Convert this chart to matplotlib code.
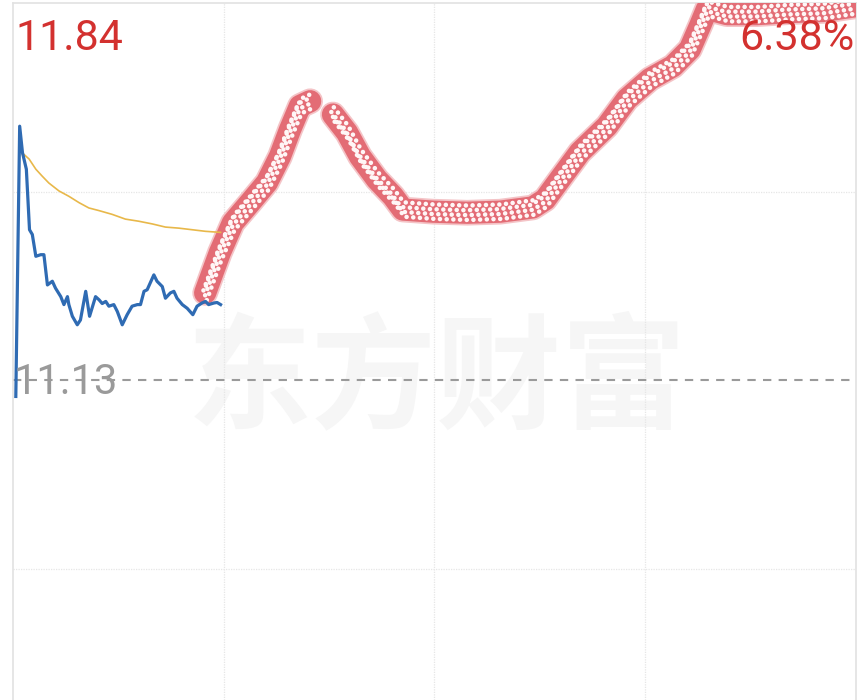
import matplotlib
matplotlib.use("Agg")
import matplotlib.pyplot as plt
import matplotlib.patheffects as pe

# ---------------- data ----------------
prev_close = 11.13
top_price = 11.84
pct_label = "6.38%"

# actual intraday price (minutes since open, price)
price_t = [0.8, 1.9, 2.7, 3.8, 4.7, 5.5, 6.5, 7.9, 8.8, 9.8, 11.2, 12.1, 13.6, 14.5,
           15.5, 15.9, 16.9, 18.3, 19.2, 20.7, 21.8, 23.5, 24.5, 25.4, 26.4, 27.3,
           28.7, 29.7, 31.1, 32.5, 33.9, 35.4, 36.3, 37.3, 38.2, 40.1, 41.0, 42.5,
           43.4, 44.8, 45.8, 46.7, 48.2, 49.6, 51.2, 52.4, 53.8, 54.8, 55.7, 57.2,
           58.1, 59.1]
price_v = [11.099, 11.608, 11.558, 11.527, 11.413, 11.404, 11.363, 11.366, 11.366,
           11.309, 11.316, 11.303, 11.287, 11.272, 11.287, 11.272, 11.250, 11.234,
           11.243, 11.297, 11.250, 11.287, 11.281, 11.274, 11.278, 11.269, 11.272,
           11.259, 11.234, 11.253, 11.269, 11.272, 11.272, 11.297, 11.300, 11.328,
           11.316, 11.306, 11.284, 11.294, 11.297, 11.284, 11.272, 11.265, 11.253,
           11.269, 11.275, 11.278, 11.272, 11.275, 11.276, 11.272]

# average price line
avg_t = [2.7, 3.1, 4.6, 6.5, 8.3, 10.2, 13.1, 15.9, 18.8, 21.6, 24.5, 28.2, 32.0,
         35.8, 39.6, 43.4, 47.2, 51.0, 54.8, 59.1]
avg_v = [11.555, 11.555, 11.546, 11.527, 11.514, 11.501, 11.486, 11.476, 11.464,
         11.454, 11.449, 11.442, 11.433, 11.429, 11.424, 11.418, 11.416, 11.413,
         11.410, 11.408]

# red dotted band (two segments)
band1_t = [54.7, 58.9, 62.6, 67.5, 72.3, 76.0, 78.9, 81.7, 84.6]
band1_v = [11.294, 11.370, 11.426, 11.464, 11.502, 11.551, 11.602, 11.646, 11.655]
band2_t = [91.1, 95.1, 98.8, 103.6, 108.2, 111.0, 119.6, 129.3, 138.7, 148.0, 151.5,
           155.7, 161.4, 169.1, 174.8, 181.4, 187.9, 192.7, 195.6, 197.6, 203.3,
           211.8, 221.2, 230.6, 240.0]
band2_v = [11.630, 11.596, 11.551, 11.508, 11.476, 11.451, 11.447, 11.445, 11.447,
           11.455, 11.470, 11.508, 11.559, 11.608, 11.659, 11.697, 11.721, 11.753,
           11.797, 11.829, 11.819, 11.819, 11.823, 11.825, 11.834]

grid_minutes = [60, 120, 180]

# ---------------- figure ----------------
plt.rcParams['font.family'] = ['Roboto', 'DejaVu Sans']
fig = plt.figure(figsize=(8.6, 7.0), dpi=100)
W, H = 860, 700
ax = fig.add_axes([13 / W, 0, (856 - 13) / W, 1 - 3 / H])

step = (top_price - prev_close) / 377.0  # price per pixel
ymax = prev_close + 377 * step
ymin = prev_close - 320 * step
ax.set_xlim(0, 240)
ax.set_ylim(ymin, ymax)

for s in ['left', 'top', 'right']:
    ax.spines[s].set_color('#e2e2e2')
    ax.spines[s].set_linewidth(1.2)
ax.spines['bottom'].set_visible(False)
ax.set_xticks([])
ax.set_yticks([])

# grid
for m in grid_minutes:
    ax.axvline(m, color='#e6e6e6', lw=0.9, ls=(0, (1, 1)), zorder=1)
half = top_price - prev_close
for yv in [prev_close + half / 2, prev_close - half / 2]:
    ax.axhline(yv, color='#e6e6e6', lw=0.9, ls=(0, (1, 1)), zorder=1)
ax.axhline(prev_close, color='#9a9a9a', lw=1.5, ls=(0, (4, 3.5)), zorder=2)

# watermark
ax.text(0.503, (700 - 382) / 697, '东方财富', transform=ax.transAxes,
        ha='center', va='center', fontsize=90, fontweight='bold',
        color='#f6f6f6', family=['Noto Sans CJK SC'], zorder=0)

# red dotted band
for bt, bv in [(band1_t, band1_v), (band2_t, band2_v)]:
    ax.plot(bt, bv, color='#f4c4c7', lw=18.5, solid_capstyle='round',
            solid_joinstyle='round', zorder=3)
    ax.plot(bt, bv, color='#e36c75', lw=16, solid_capstyle='round',
            solid_joinstyle='round', zorder=4)
    ax.plot(bt, bv, color='#fff6f6', lw=3.3, ls=(0, (0.01, 1.45)),
            dash_capstyle='round', zorder=5,
            path_effects=[pe.Stroke(offset=(1.2, -5.2)),
                          pe.Stroke(offset=(0.0, -1.7)),
                          pe.Stroke(offset=(-1.2, 1.8)),
                          pe.Stroke(offset=(0.6, 5.2))])

# average and price lines
ax.plot(avg_t, avg_v, color='#e8b84a', lw=1.2, zorder=6)
ax.plot(price_t, price_v, color='#2f6bb3', lw=2.3, zorder=7,
        solid_joinstyle='round')

# labels
ax.text(2 / 843, 1 - 15 / 697, f'{top_price:.2f}', transform=ax.transAxes,
        ha='left', va='top', fontsize=31, color='#d3312f', zorder=8)
ax.text(1 - 2 / 843, 1 - 15 / 697, pct_label, transform=ax.transAxes,
        ha='right', va='top', fontsize=31, color='#d3312f', zorder=8)
ax.text(1 / 843, prev_close - 0.004, f'{prev_close:.2f}', ha='left', va='center',
        transform=ax.get_yaxis_transform(), fontsize=30, color='#9a9a9a', zorder=8)

fig.savefig('out.png', dpi=100, facecolor='white')
